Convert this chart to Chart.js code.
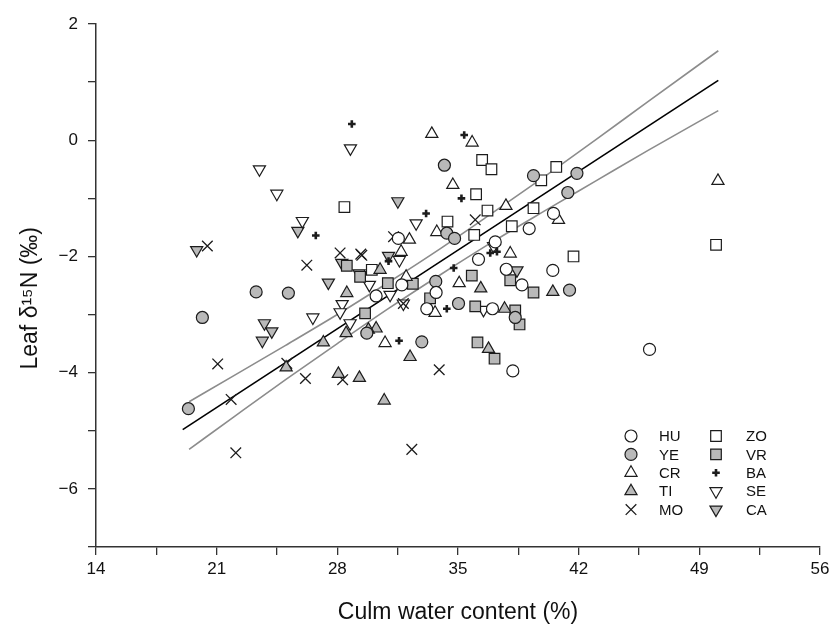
<!DOCTYPE html>
<html>
<head>
<meta charset="utf-8">
<script src="https://cdn.jsdelivr.net/npm/chart.js@4.4.1/dist/chart.umd.min.js"></script>
<style>
    html, body { margin: 0; padding: 0; background: #ffffff; }
    #wrap { width: 835px; height: 634px; }
</style>
</head>
<body>
<div id="wrap"><canvas id="scatter" width="835" height="634"></canvas></div>
<script>
// Leaf d15N vs culm water content, ten sites + regression with 95% band

const groups = ['HU', 'YE', 'CR', 'TI', 'MO', 'ZO', 'VR', 'BA', 'SE', 'CA'];
const xTicks = [14, 21, 28, 35, 42, 49, 56];
const yTicks = [2, 0, -2, -4, -6];

const huX = [31.54, 39.13, 40.54, 37.16, 36.19, 37.80, 40.50, 38.71, 31.74, 30.25, 33.19, 33.73, 37.00, 38.18, 46.11];
const huY = [-1.69, -1.52, -1.26, -1.75, -2.05, -2.22, -2.24, -2.49, -2.49, -2.68, -2.90, -2.62, -2.90, -3.97, -3.60];

const yeX = [23.29, 25.16, 20.17, 29.71, 19.36, 34.21, 39.38, 34.35, 34.80, 33.71, 35.03, 38.32, 32.90, 41.90, 41.37, 41.47];
const yeY = [-2.61, -2.63, -3.05, -3.32, -4.62, -0.43, -0.61, -1.60, -1.69, -2.43, -2.81, -3.05, -3.47, -0.57, -0.90, -2.58];

const crX = [33.48, 35.82, 34.70, 37.78, 40.83, 33.77, 32.18, 31.70, 38.03, 31.99, 35.07, 33.67, 30.77, 50.08];
const crY = [0.11, -0.04, -0.77, -1.13, -1.37, -1.58, -1.71, -1.92, -1.95, -2.35, -2.46, -2.97, -3.49, -0.70];

const tiX = [28.55, 28.51, 27.19, 25.03, 28.06, 29.28, 30.48, 36.32, 40.50, 37.70, 30.25, 29.80, 32.22, 36.77, 30.72];
const tiY = [-2.63, -3.32, -3.48, -3.91, -4.02, -4.09, -2.23, -2.55, -2.61, -2.90, -3.24, -3.26, -3.73, -3.59, -4.48];

const moX = [20.46, 26.23, 28.16, 29.36, 25.07, 21.06, 26.15, 28.31, 21.84, 22.11, 36.00, 31.26, 29.42, 31.83, 33.91, 32.32];
const moY = [-1.82, -2.15, -1.94, -1.96, -3.84, -3.85, -4.10, -4.12, -4.46, -5.38, -1.37, -1.66, -1.98, -2.81, -3.95, -5.32];

const zoX = [28.41, 36.40, 36.94, 36.05, 39.83, 40.70, 36.71, 39.38, 38.12, 34.39, 35.94, 30.00, 41.70, 49.97];
const zoY = [-1.15, -0.34, -0.50, -0.93, -0.69, -0.46, -1.21, -1.17, -1.48, -1.40, -1.63, -2.23, -2.00, -1.80];

const vrX = [28.55, 29.32, 29.61, 38.03, 35.80, 32.38, 30.93, 39.38, 33.38, 36.00, 38.32, 38.57, 36.13, 37.12];
const vrY = [-2.16, -2.35, -2.98, -2.41, -2.33, -2.47, -2.46, -2.62, -2.72, -2.86, -2.93, -3.17, -3.48, -3.76];

const baX = [28.84, 26.75, 35.36, 35.20, 33.15, 36.87, 37.26, 34.75, 30.97, 34.35, 31.58];
const baY = [0.28, -1.64, 0.09, -1.00, -1.26, -1.94, -1.92, -2.20, -2.08, -2.90, -3.45];

const seX = [28.76, 23.48, 24.49, 25.97, 26.58, 28.28, 28.16, 32.57, 37.06, 31.60, 29.86, 31.06, 31.83, 36.48, 28.74];
const seY = [-0.14, -0.50, -0.92, -1.39, -3.05, -2.82, -2.96, -1.43, -1.82, -2.06, -2.49, -2.66, -2.81, -2.92, -3.15];

const caX = [25.71, 19.84, 28.26, 29.26, 27.48, 23.77, 24.20, 23.65, 31.51, 30.97, 38.42];
const caY = [-1.56, -1.89, -2.11, -2.29, -2.45, -3.15, -3.29, -3.45, -1.05, -1.99, -2.24];

// regression line and confidence band
const fitX = [19.03, 50.1];
const fitY = [-4.98, 1.03];
const bandX = [19.4, 22, 25, 28, 31, 34, 37, 40, 43, 46, 50.1];
const bandUp = [-4.50, -4.05, -3.53, -3.00, -2.44, -1.86, -1.25, -0.63, 0.01, 0.66, 1.54];
const bandLo = [-5.32, -4.76, -4.12, -3.50, -2.89, -2.31, -1.75, -1.22, -0.70, -0.18, 0.51];

// --- styles ---

const OPEN = '#ffffff';
const GREY = '#b9b9b9';
const EDGE = '#1c1c1c';
const FONT = '"Liberation Sans", Arial, sans-serif';

const markerStyle = {
    HU: { pointStyle: 'circle', radius: 6, bg: OPEN, bw: 1.2 },
    YE: { pointStyle: 'circle', radius: 6, bg: GREY, bw: 1.2 },
    CR: { pointStyle: 'triangle', radius: 7, bg: OPEN, bw: 1.2 },
    TI: { pointStyle: 'triangle', radius: 7, bg: GREY, bw: 1.2 },
    MO: { pointStyle: 'crossRot', radius: 7.5, bg: OPEN, bw: 1.3 },
    ZO: { pointStyle: 'rect', radius: 7.5, bg: OPEN, bw: 1.2 },
    VR: { pointStyle: 'rect', radius: 7.5, bg: GREY, bw: 1.2 },
    BA: { pointStyle: 'cross', radius: 3.8, bg: '#000', bw: 2.6 },
    SE: { pointStyle: 'triangle', radius: 7, bg: OPEN, bw: 1.2, rotation: 180 },
    CA: { pointStyle: 'triangle', radius: 7, bg: GREY, bw: 1.2, rotation: 180 }
};

const seriesX = { HU: huX, YE: yeX, CR: crX, TI: tiX, MO: moX, ZO: zoX, VR: vrX, BA: baX, SE: seX, CA: caX };
const seriesY = { HU: huY, YE: yeY, CR: crY, TI: tiY, MO: moY, ZO: zoY, VR: vrY, BA: baY, SE: seY, CA: caY };

function pts(xs, ys) {
    return xs.map((x, i) => ({ x: x, y: ys[i] }));
}

function xTickLabel(v) {
    return xTicks.includes(v) ? String(v) : '';
}

function yTickLabel(v) {
    return yTicks.includes(v) ? String(v).replace('-', '\u2212') : '';
}

const datasets = groups.map(g => {
    const s = markerStyle[g];
    return {
        type: 'scatter',
        label: g,
        data: pts(seriesX[g], seriesY[g]),
        pointStyle: s.pointStyle,
        pointRadius: s.radius,
        pointRotation: s.rotation || 0,
        pointBackgroundColor: s.bg,
        pointBorderColor: EDGE,
        pointBorderWidth: s.bw,
        order: 1
    };
});

datasets.push({
    type: 'line', label: 'upper', data: pts(bandX, bandUp),
    borderColor: '#8c8c8c', borderWidth: 1.6, pointRadius: 0,
    cubicInterpolationMode: 'monotone', fill: false, order: 5
});
datasets.push({
    type: 'line', label: 'lower', data: pts(bandX, bandLo),
    borderColor: '#8c8c8c', borderWidth: 1.6, pointRadius: 0,
    cubicInterpolationMode: 'monotone', fill: false, order: 5
});
datasets.push({
    type: 'line', label: 'fit', data: pts(fitX, fitY),
    borderColor: '#000000', borderWidth: 1.6, pointRadius: 0, fill: false, order: 4
});

// --- legend inside the plot, two columns ---

const insideLegend = {
    id: 'insideLegend',
    afterDraw(chart) {
        const ctx = chart.ctx;
        ctx.save();
        ctx.font = '15px ' + FONT;
        ctx.textBaseline = 'middle';
        groups.forEach((g, i) => {
            const col = Math.floor(i / 5);
            const row = i % 5;
            const mx = 631 + col * 85;
            const tx = 659 + col * 87;
            const y = 436 + row * 18.4;
            const s = markerStyle[g];
            ctx.fillStyle = s.bg;
            ctx.strokeStyle = EDGE;
            ctx.lineWidth = s.bw;
            Chart.helpers.drawPoint(ctx, {
                pointStyle: s.pointStyle, radius: s.radius,
                rotation: s.rotation || 0, borderWidth: s.bw
            }, mx, y);
            ctx.fillStyle = '#111111';
            ctx.fillText(g, tx, y + 1);
        });
        ctx.restore();
    }
};

new Chart(document.getElementById('scatter'), {
    type: 'scatter',
    data: { datasets: datasets },
    plugins: [insideLegend],
    options: {
        responsive: false,
        animation: false,
        devicePixelRatio: 1,
        layout: { padding: { left: 0, right: 15, top: 24, bottom: 0 } },
        plugins: {
            legend: { display: false },
            tooltip: { enabled: false }
        },
        scales: {
            x: {
                type: 'linear',
                min: 14, max: 56,
                afterFit: (scale) => { scale.height = 87; },
                border: { display: true, color: '#333', width: 1.5 },
                grid: { drawOnChartArea: false, drawTicks: true, tickLength: 8, color: '#333', lineWidth: 1.3 },
                ticks: {
                    stepSize: 3.5,
                    autoSkip: false,
                    maxRotation: 0,
                    padding: 4,
                    color: '#111',
                    font: { family: FONT, size: 17 },
                    callback: (v) => xTickLabel(v)
                },
                title: {
                    display: true,
                    text: 'Culm water content (%)',
                    color: '#111',
                    font: { family: FONT, size: 23 },
                    padding: { top: 0, bottom: 8 }
                }
            },
            y: {
                type: 'linear',
                min: -7, max: 2,
                afterFit: (scale) => { scale.width = 96; },
                border: { display: true, color: '#333', width: 1.5 },
                grid: { drawOnChartArea: false, drawTicks: true, tickLength: 8, color: '#333', lineWidth: 1.3 },
                ticks: {
                    stepSize: 1,
                    autoSkip: false,
                    padding: 10,
                    color: '#111',
                    font: { family: FONT, size: 17 },
                    callback: (v) => yTickLabel(v)
                },
                title: {
                    display: true,
                    text: 'Leaf \u03b4\u00b9\u2075N (\u2030)    ',
                    color: '#111',
                    font: { family: FONT, size: 23 },
                    padding: { top: 17, bottom: 0 }
                }
            }
        }
    }
});
</script>
</body>
</html>
